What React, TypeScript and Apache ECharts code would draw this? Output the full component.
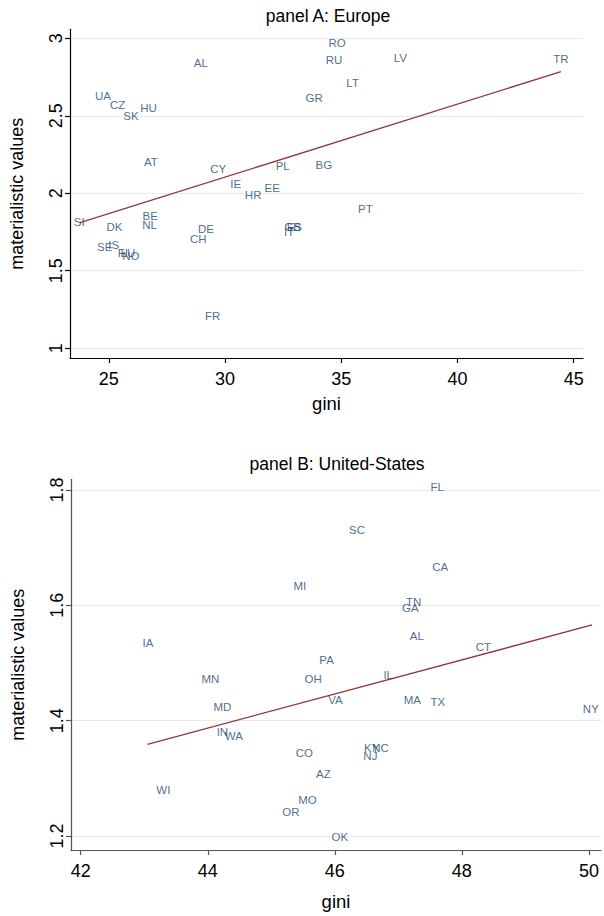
import React, { useEffect, useRef } from "react";
import * as echarts from "echarts";

// Panel A: Europe
const euCodes = ["SI","DK","SE","IS","FI","LU","NO","BE","NL","UA","CZ","SK","HU","AT","AL","CY","IE","HR","EE","PL","BG","GR","RO","RU","LT","LV","TR","PT","DE","CH","GB","ES","IT","FR"];
const euGini = [23.73,25.24,24.82,25.21,25.60,25.82,25.95,26.78,26.75,24.75,25.38,25.95,26.71,26.81,28.96,29.71,30.46,31.21,32.03,32.48,34.25,33.83,34.82,34.69,35.49,37.54,44.45,36.04,29.18,28.85,32.90,32.98,32.76,29.47];
const euValues = [1.817,1.785,1.655,1.666,1.617,1.617,1.595,1.854,1.795,2.628,2.570,2.50,2.55,2.204,2.843,2.157,2.06,1.989,2.036,2.178,2.183,2.617,2.972,2.862,2.714,2.875,2.868,1.90,1.768,1.705,1.785,1.783,1.748,1.21];
const euFitX = [23.76, 44.45];
const euFitY = [1.81, 2.785];
const euXTicks = [25, 30, 35, 40, 45];
const euYTicks = [1, 1.5, 2, 2.5, 3];

// Panel B: United-States
const usCodes = ["FL","SC","CA","TN","GA","AL","CT","PA","OH","IL","MI","IA","MN","MD","VA","IN","WA","CO","AZ","WI","MO","OR","OK","MA","TX","NY","KY","NC","NJ"];
const usGini = [47.61,46.35,47.66,47.24,47.19,47.29,48.34,45.87,45.66,46.84,45.45,43.06,44.04,44.23,46.01,44.23,44.41,45.52,45.82,43.30,45.57,45.31,46.08,47.22,47.62,50.03,46.58,46.72,46.56];
const usValues = [1.805,1.730,1.667,1.605,1.595,1.547,1.527,1.506,1.473,1.479,1.633,1.534,1.473,1.424,1.436,1.380,1.373,1.344,1.308,1.280,1.262,1.242,1.199,1.436,1.432,1.421,1.352,1.352,1.339];
const usFitX = [43.05, 50.05];
const usFitY = [1.359, 1.566];
const usXTicks = [42, 44, 46, 48, 50];
const usYTicks = [1.2, 1.4, 1.6, 1.8];

const FONT = "Liberation Sans, Arial, Helvetica, sans-serif";
const LABEL_COLOR = "#1a476f";
const FIT_COLOR = "#90353b";

function pts(codes: string[], xs: number[], ys: number[]) {
  return codes.map((c, i) => ({ name: c, value: [xs[i], ys[i]] }));
}

function axisX(gridIndex: number, min: number, max: number, ticks: number[], color: string, nameGap: number) {
  return {
    type: "value",
    gridIndex,
    min,
    max,
    name: "gini",
    nameLocation: "middle",
    nameGap,
    nameTextStyle: { color: "#000", fontSize: 18.5, fontFamily: FONT },
    axisLine: { show: true, onZero: false, lineStyle: { color, width: 1.2 } },
    axisTick: { show: true, length: 5, customValues: ticks, lineStyle: { color, width: 1.2 } },
    axisLabel: { customValues: ticks, color: "#000", fontSize: 18, fontFamily: FONT, margin: 12 },
    splitLine: { show: false },
  };
}

function axisY(gridIndex: number, min: number, max: number, ticks: number[], color: string) {
  return {
    type: "value",
    gridIndex,
    min,
    max,
    name: "materialistic values",
    nameLocation: "middle",
    nameGap: 44,
    nameTextStyle: { color: "#000", fontSize: 18, fontFamily: FONT },
    axisLine: { show: true, onZero: false, lineStyle: { color, width: 1.2 } },
    axisTick: { show: true, length: 5, customValues: ticks, lineStyle: { color, width: 1.2 } },
    axisLabel: { customValues: ticks, color: "#000", fontSize: 18, fontFamily: FONT, rotate: 90, margin: 5 },
    splitLine: { show: true, lineStyle: { color: "#eaeaea", width: 1.2 } },
  };
}

function labelSeries(idx: number, data: any[]) {
  return {
    type: "scatter",
    xAxisIndex: idx,
    yAxisIndex: idx,
    data,
    symbol: "circle",
    symbolSize: 1,
    itemStyle: { color: "rgba(0,0,0,0)" },
    clip: false,
    label: {
      show: true,
      position: "inside",
      formatter: (p: any) => p.name,
      color: LABEL_COLOR,
      fontSize: 11.5,
      fontFamily: FONT,
      textBorderWidth: 0,
    },
    emphasis: { disabled: true },
    z: 3,
  };
}

function fitSeries(idx: number, xs: number[], ys: number[]) {
  return {
    type: "line",
    xAxisIndex: idx,
    yAxisIndex: idx,
    data: xs.map((x, i) => [x, ys[i]]),
    symbol: "none",
    lineStyle: { color: FIT_COLOR, width: 1.3 },
    z: 1,
  };
}

export default function App() {
  const ref = useRef<HTMLDivElement>(null);
  useEffect(() => {
    if (!ref.current) return;
    const chart = echarts.init(ref.current, null, { renderer: "svg" });
    chart.setOption({
      animation: false,
      backgroundColor: "#ffffff",
      grid: [
        { left: 69.5, top: 29.3, width: 513.5, height: 328.7 },
        { left: 71, top: 479.3, width: 530, height: 370.7 },
      ],
      xAxis: [
        axisX(0, 23.33, 45.4, euXTicks, "#000", 36),
        axisX(1, 41.847, 50.19, usXTicks, "#555", 42),
      ],
      yAxis: [
        axisY(0, 0.937, 3.058, euYTicks, "#000"),
        axisY(1, 1.1757, 1.8186, usYTicks, "#555"),
      ],
      graphic: [
        {
          type: "text",
          x: 328,
          y: 16,
          style: { text: "panel A: Europe", fontSize: 17.5, fontFamily: FONT, fill: "#000", align: "center", verticalAlign: "middle" },
        },
        {
          type: "text",
          x: 337,
          y: 464,
          style: { text: "panel B: United-States", fontSize: 17.5, fontFamily: FONT, fill: "#000", align: "center", verticalAlign: "middle" },
        },
      ],
      series: [
        fitSeries(0, euFitX, euFitY),
        labelSeries(0, pts(euCodes, euGini, euValues)),
        fitSeries(1, usFitX, usFitY),
        labelSeries(1, pts(usCodes, usGini, usValues)),
      ],
    });
    return () => chart.dispose();
  }, []);
  return <div ref={ref} style={{ position: "fixed", left: 0, top: 0, width: 604, height: 916, background: "#fff" }} />;
}
